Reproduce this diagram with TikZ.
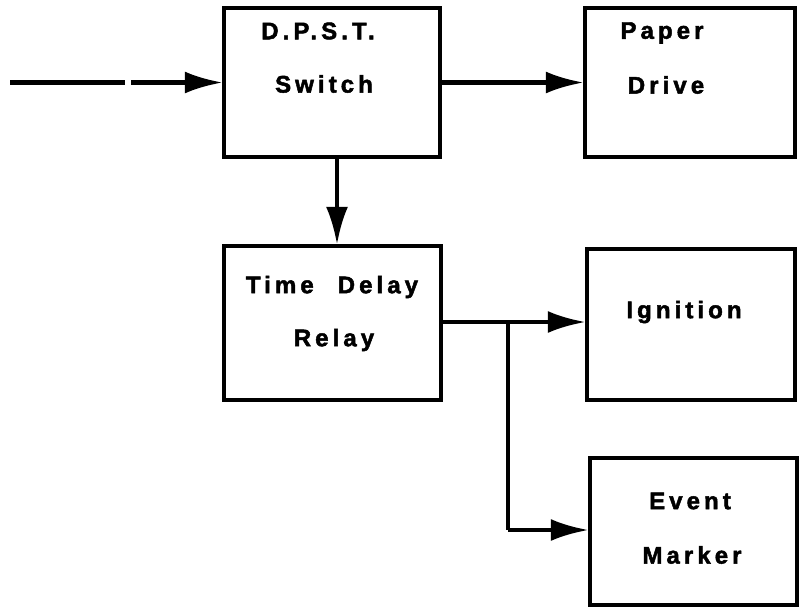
\documentclass[tikz,border=0pt]{standalone}
\usepackage{fontspec}
\setmainfont{Liberation Sans}[BoldFont={Liberation Sans Bold}]
\usetikzlibrary{arrows.meta}
\tikzset{
  blk/.style={draw, line width=4.5pt, rectangle, inner sep=0pt},
  lbl/.style={font=\bfseries\fontsize{24}{24}\selectfont\addfontfeature{LetterSpace=17,FakeBold=2}, inner sep=0pt, anchor=center},
  conn/.style={line width=4.5pt},
  arr/.style={conn, -{Latex[length=38pt,width=22pt]}, shorten >=-1pt}
}
\begin{document}
\begin{tikzpicture}[x=1pt,y=-1pt]
\fill[white] (0,0) rectangle (805,611);
\useasboundingbox (0,0) rectangle (805,611);
% boxes
\node[blk, minimum width=216pt, minimum height=149pt] (sw) at (332,82.5) {};
\node[blk, minimum width=210pt, minimum height=149pt] (pd) at (690,82.5) {};
\node[blk, minimum width=217pt, minimum height=154pt] (tdr) at (332.5,323) {};
\node[blk, minimum width=208pt, minimum height=151pt] (ig) at (691,324.5) {};
\node[blk, minimum width=207pt, minimum height=147pt] (em) at (693.5,531.5) {};
% labels
\node[lbl] (l1) at (318,31) {D.P.S.T.};
\node[lbl] (l2) at (324,84) {Switch};
\node[lbl] (l3) at (662,33) {Paper};
\node[lbl] (l4) at (666,85) {Drive};
\node[lbl] (l5) at (332,287) {Time\hspace{24pt}Delay};
\node[lbl] (l6) at (334,340) {Relay};
\node[lbl] (l7) at (684,312) {Ignition};
\node[lbl] (l8) at (690,501) {Event};
\node[lbl] (l9) at (692,555) {Marker};
% input line with gap
\coordinate (i0) at (10,82.5);
\coordinate (i1) at (125,82.5);
\coordinate (i2) at (131,82.5);
\draw[conn] (i0) -- (i1);
\draw[arr] (i2) -- (sw.west);
% switch -> paper
\draw[arr] (sw.east) -- (pd.west);
% switch -> tdr
\draw[arr] (sw.south) ++(5,0) coordinate (s0) -- (s0 |- tdr.north);
% tdr -> ignition and event
\coordinate (br) at (508,322);
\draw[conn] (tdr.east |- br) -- (br);
\draw[arr] (br) -- (ig.west |- br);
\coordinate (bb) at (508,530);
\draw[conn] (br) -- (bb);
\draw[arr] (bb) -- (em.west |- bb);
\end{tikzpicture}
\end{document}
